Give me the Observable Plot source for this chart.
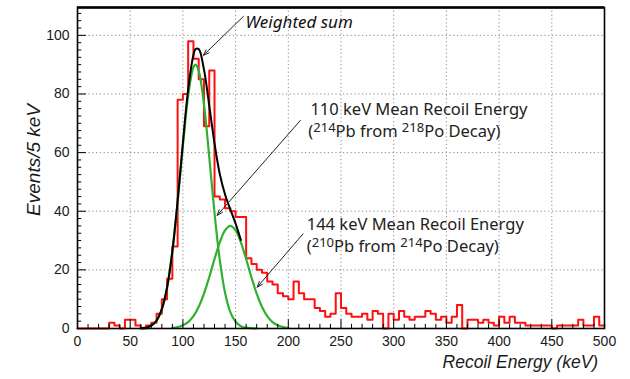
<!DOCTYPE html>
<html><head><meta charset="utf-8">
<script src="https://cdn.jsdelivr.net/npm/d3@7"></script>
<script src="https://cdn.jsdelivr.net/npm/@observablehq/plot@0.6"></script>
<style>body{margin:0;background:#fff}</style>
</head><body><div id="chart"></div>
<script>
// ---- data ----
const binStart = [0,5,10,15,20,25,30,35,40,45,50,55,60,65,70,75,80,85,90,95,
  100,105,110,115,120,125,130,135,140,145,150,155,160,165,170,175,180,185,190,195,
  200,205,210,215,220,225,230,235,240,245,250,255,260,265,270,275,280,285,290,295,
  300,305,310,315,320,325,330,335,340,345,350,355,360,365,370,375,380,385,390,395,
  400,405,410,415,420,425,430,435,440,445,450,455,460,465,470,475,480,485,490,495];
const counts = [0,0,0,0,0,0,2,1,0,3, 3,1,0,1,2,5,10,17,28,78,
  80,98,92,85,69,88,45,44,41,40, 38,38,24,22,20,19,16,15,12,11,
  10,16,12,10,10,7,6,4,5,12, 7,5,4,4,5,3,6,5,0,5,
  3,6,4,3,4,4,6,5,3,4, 2,4,8,0,3,3,2,3,2,1,
  4,2,4,2,2,1,1,1,1,1, 0,1,1,1,1,3,1,1,4,1];
const binWidth = 5;

// fit curves
const fit1E = [60,65,70,75,80,85,90,95,100,105,110,112,115,120,125,130,135,140,145,150,155,160,165,170];
const fit1V = [0.1,0.3,1.0,2.7,6.6,14.0,26.2,43.1,62.3,79.4,89.1,90.0,87.9,76.4,58.5,39.4,23.3,12.2,5.6,2.3,0.8,0.3,0.1,0.0];
const fit2E = [90,95,100,105,110,115,120,125,130,135,140,145,150,155,160,165,170,175,180,185,190,195,200];
const fit2V = [0.2,0.5,1.1,2.2,4.2,7.4,11.9,17.5,23.7,29.4,33.5,35.0,33.5,29.4,23.7,17.5,11.9,7.4,4.2,2.2,1.1,0.5,0.2];
const sumE = [60,65,70,75,80,85,90,95,100,105,110,112,115,120,125,130,135,140,145,150,155];
const sumV = [0.1,0.3,1.0,2.7,6.6,14.0,26.4,43.6,63.4,81.6,93.3,95.3,95.3,88.3,76.0,63.1,52.7,45.7,40.6,35.8,30.2];

const xTicks = [0,50,100,150,200,250,300,350,400,450,500];
const yTicks = [0,20,40,60,80,100];
const xMinor = [10,20,30,40,60,70,80,90,110,120,130,140,160,170,180,190,210,220,230,240,260,270,280,290,310,320,330,340,360,370,380,390,410,420,430,440,460,470,480,490];
const yMinor = [2.5,5,7.5,10,12.5,15,17.5,22.5,25,27.5,30,32.5,35,37.5,42.5,45,47.5,50,52.5,55,57.5,62.5,65,67.5,70,72.5,75,77.5,82.5,85,87.5,90,92.5,95,97.5,102.5,105,107.5];
const xGrid = [50,100,150,200,250,300,350,400,450];
const yGrid = [20,40,60,80,100];

const xTitle = "Recoil Energy (keV)";
const yTitle = "Events/5 keV";

// annotations (data coordinates)
const notes = [
  {text: "110 keV Mean Recoil Energy", e: 221, v: 74.6},
  {text: "(214Pb from 218Po Decay)", e: 219, v: 67.2},
  {text: "144 keV Mean Recoil Energy", e: 217.5, v: 35.4},
  {text: "(210Pb from 214Po Decay)", e: 217.5, v: 27.9}
];
const weightedNote = {text: "Weighted sum", e: 159.5, v: 104.4};
const xTitlePos = {e: 494, v: -11.6};
const yTitlePos = {e: -41.5, v: 57.5};
const arrows = [
  {e1: 157.5, v1: 106.5, e2: 119.5, v2: 93.2},
  {e1: 211.5, v1: 71.0, e2: 132.5, v2: 38.6},
  {e1: 214.0, v1: 32.3, e2: 170.5, v2: 14.1}
];

// ---- build ----
const hist = binStart.map((e, i) => ({e, c: counts[i]}));
hist.push({e: binStart[binStart.length - 1] + binWidth, c: counts[counts.length - 1]});
const fit1 = fit1E.map((e, i) => ({e, v: fit1V[i]}));
const fit2 = fit2E.map((e, i) => ({e, v: fit2V[i]}));
const fitSum = sumE.map((e, i) => ({e, v: sumV[i]}));

const green = "#2fb12f";
const plot = Plot.plot({
  width: 630, height: 379,
  marginLeft: 77, marginRight: 26, marginTop: 7, marginBottom: 51,
  x: {domain: [0, 500], axis: null},
  y: {domain: [0, 109.5], axis: null},
  style: {fontFamily: "'Liberation Sans', Arial, sans-serif", fontSize: "14px", color: "#1a1a1a", background: "white"},
  marks: [
    Plot.ruleX(xGrid, {x: d => d, stroke: "#8a8a8a", strokeDasharray: "1.2,2.6", strokeWidth: 1}),
    Plot.ruleY(yGrid, {y: d => d, stroke: "#8a8a8a", strokeDasharray: "1.2,2.6", strokeWidth: 1}),
    Plot.line(hist, {x: "e", y: "c", curve: "step-after", stroke: "#ff1010", strokeWidth: 2}),
    Plot.line(fit1, {x: "e", y: "v", curve: "catmull-rom", stroke: green, strokeWidth: 2.2}),
    Plot.line(fit2, {x: "e", y: "v", curve: "catmull-rom", stroke: green, strokeWidth: 2.2}),
    Plot.line(fitSum, {x: "e", y: "v", curve: "catmull-rom", stroke: "black", strokeWidth: 2}),
    Plot.ruleX(xMinor, {x: d => d, y1: 0, y2: 1.4, stroke: "black"}),
    Plot.ruleX(xTicks, {x: d => d, y1: 0, y2: 3.0, stroke: "black"}),
    Plot.ruleY(yMinor, {y: d => d, x1: 0, x2: 4, stroke: "black"}),
    Plot.ruleY(yTicks, {y: d => d, x1: 0, x2: 8.5, stroke: "black"}),
    Plot.frame({stroke: "black", strokeWidth: 1.6}),
    Plot.ruleY([109.5], {stroke: "black", strokeWidth: 2.6}),
    Plot.axisX({ticks: xTicks, tickSize: 0, tickPadding: 8, tickFormat: d => String(d), label: null, fontSize: 14}),
    Plot.axisY({ticks: yTicks, tickSize: 0, tickPadding: 8, tickFormat: d => String(d), label: null, fontSize: 14}),
    Plot.text([xTitlePos], {x: "e", y: "v", text: () => xTitle, textAnchor: "end", fontStyle: "italic", fontSize: 17.5, fill: "#1a1a1a"}),
    Plot.text([yTitlePos], {x: "e", y: "v", text: () => yTitle, rotate: -90, textAnchor: "middle", fontStyle: "italic", fontSize: 19, fill: "#1a1a1a"}),
    Plot.arrow(arrows, {x1: "e1", y1: "v1", x2: "e2", y2: "v2", stroke: "#222", strokeWidth: 1, headLength: 9, headAngle: 40}),
    Plot.text(notes, {x: "e", y: "v", text: "text", textAnchor: "start", fontFamily: "'Noto Sans', 'Open Sans', sans-serif", fontSize: 16.5, fill: "#222"}),
    Plot.text([weightedNote], {x: "e", y: "v", text: "text", textAnchor: "start", fontFamily: "'Noto Sans', 'Open Sans', sans-serif", fontStyle: "italic", fontSize: 17, fill: "#111"})
  ]
});
document.getElementById("chart").appendChild(plot);

// superscripts for isotope mass numbers
plot.querySelectorAll("text").forEach(t => {
  const s = t.textContent;
  if (!/\(\d{3}Pb/.test(s)) return;
  const parts = s.split(/(\d{3})(?=P[bo])/);
  t.textContent = "";
  parts.forEach(p => {
    if (!p) return;
    const ts = document.createElementNS("http://www.w3.org/2000/svg", "tspan");
    ts.textContent = p;
    if (/^\d{3}$/.test(p)) {
      ts.setAttribute("font-size", "13");
      ts.setAttribute("dy", "-4.5");
    } else if (t.childNodes.length) {
      ts.setAttribute("dy", "4.5");
    }
    t.appendChild(ts);
  });
});
</script>
</body></html>
